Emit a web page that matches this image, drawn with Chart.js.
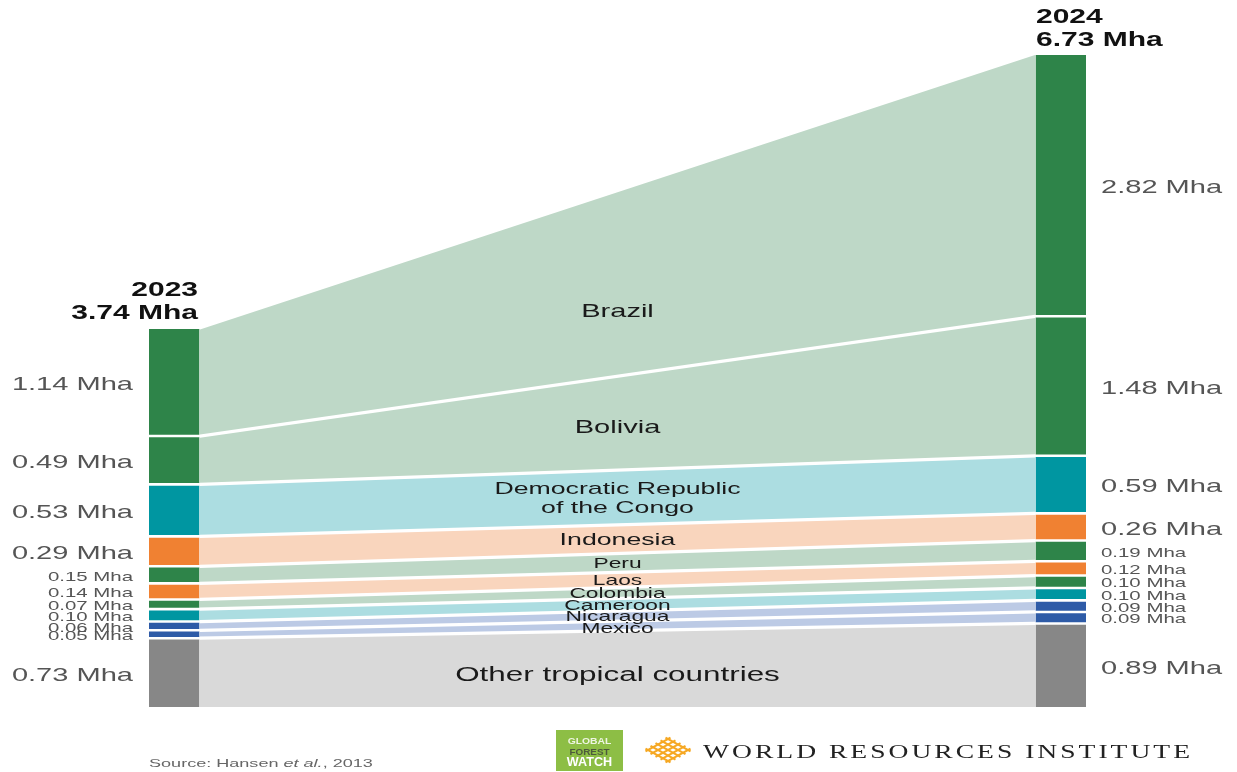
<!DOCTYPE html>
<html>
<head>
<meta charset="utf-8">
<title>Tropical primary forest loss from fires</title>
<script src="https://cdn.jsdelivr.net/npm/chart.js@4/dist/chart.umd.min.js"></script>
<style>
	html, body { margin: 0; padding: 0; background: #fff; }
	#quadro { position: relative; width: 1237px; height: 772px; }
</style>
</head>
<body>
<div id="quadro"><canvas id="graficoPerda"></canvas></div>
<script>
// dados
var anos = ['2023', '2024'];
var totais = [3.74, 6.73];
var paises = ['Brazil', 'Bolivia', 'Democratic Republic\nof the Congo', 'Indonesia', 'Peru', 'Laos',
	'Colombia', 'Cameroon', 'Nicaragua', 'Mexico', 'Other tropical countries'];
var perda2023 = [1.14, 0.49, 0.53, 0.29, 0.15, 0.14, 0.07, 0.10, 0.06, 0.05, 0.73];
var perda2024 = [2.82, 1.48, 0.59, 0.26, 0.19, 0.12, 0.10, 0.10, 0.09, 0.09, 0.89];

// estilos
var VERDE = '#2e8449', VERDE_CLARO = '#bed8c7';
var AZUL = '#0096a1', AZUL_CLARO = '#acdde1';
var LARANJA = '#f08132', LARANJA_CLARO = '#f9d5bd';
var ANIL = '#2e5ba7', ANIL_CLARO = '#bccae5';
var CINZA = '#878787', CINZA_CLARO = '#d9d9d9';
var corBarra = [VERDE, VERDE, AZUL, LARANJA, VERDE, LARANJA, VERDE, AZUL, ANIL, ANIL, CINZA];
var corFluxo = [VERDE_CLARO, VERDE_CLARO, AZUL_CLARO, LARANJA_CLARO, VERDE_CLARO, LARANJA_CLARO,
	VERDE_CLARO, AZUL_CLARO, ANIL_CLARO, ANIL_CLARO, CINZA_CLARO];
var tamanhoNome = [18.5, 18.5, 17, 17, 14.5, 14.5, 14.5, 14.5, 14.5, 14.5, 20];
var ajusteNome = [27, 3, 0, 0, 0, 0, 0, 0, 0, 2, 4];

var FONTE = '"Liberation Sans", Arial, sans-serif';
var ESTICAR = 1.57;
var VAO = 0.035;            // espaco branco entre segmentos (Mha)
var LARGURA_BARRA = 50;     // unidades do eixo x = pixels da area
var X_BARRA_23 = 25, X_BARRA_24 = 912, X_MAX = 937;

var Perda = Perda || {};

Perda.Pilha = (function() {
	// empilha de baixo (ultimo pais) para cima (primeiro)
	function empilhar(valores) {
		var faixas = [];
		var base = 0;
		for (var i = valores.length - 1; i >= 0; i--) {
			faixas[i] = [base, base + valores[i]];
			base += valores[i] + VAO;
		}
		return faixas;
	}
	return { empilhar: empilhar };
}());

Perda.Grafico = (function() {

	function Grafico() {
		this.ctx = document.getElementById('graficoPerda').getContext('2d');
		this.faixas23 = Perda.Pilha.empilhar(perda2023);
		this.faixas24 = Perda.Pilha.empilhar(perda2024);
	}

	Grafico.prototype.iniciar = function() {
		var f23 = this.faixas23, f24 = this.faixas24;
		var datasets = [];
		var xIni = LARGURA_BARRA + 1, xFim = X_MAX - LARGURA_BARRA - 1;

		paises.forEach(function(p, i) {
			datasets.push({
				type: 'line',
				label: p + ' topo',
				data: [{ x: xIni, y: f23[i][1] }, { x: xFim, y: f24[i][1] }],
				fill: '+1',
				backgroundColor: corFluxo[i],
				borderWidth: 0,
				pointRadius: 0,
				tension: 0
			});
			datasets.push({
				type: 'line',
				label: p + ' base',
				data: [{ x: xIni, y: f23[i][0] }, { x: xFim, y: f24[i][0] }],
				fill: false,
				borderWidth: 0,
				pointRadius: 0,
				tension: 0
			});
		});

		paises.forEach(function(p, i) {
			datasets.push({
				type: 'bar',
				label: p,
				data: [{ x: X_BARRA_23, y: f23[i] }, { x: X_BARRA_24, y: f24[i] }],
				backgroundColor: corBarra[i],
				barThickness: LARGURA_BARRA,
				grouped: false
			});
		});

		var topo = Math.max(f23[0][1], f24[0][1]);

		new Chart(this.ctx, {
			type: 'bar',
			data: { datasets: datasets },
			options: {
				responsive: true,
				maintainAspectRatio: false,
				animation: false,
				layout: { padding: { left: 149, right: 151, top: 55, bottom: 65 } },
				scales: {
					x: { type: 'linear', min: 0, max: X_MAX, offset: false, display: false },
					y: { type: 'linear', min: 0, max: topo, display: false }
				},
				plugins: {
					legend: { display: false },
					tooltip: { enabled: false },
					filler: { propagate: false }
				}
			},
			plugins: [rotulos(f23, f24)]
		});
	};

	// texto centrado pela altura das maiusculas
	function escrever(ctx, txt, x, y, tam, estilo, cor, alinhar, esticar, familia) {
		ctx.save();
		ctx.font = estilo + tam + 'px ' + (familia || FONTE);
		ctx.fillStyle = cor;
		ctx.textAlign = alinhar;
		ctx.textBaseline = 'alphabetic';
		ctx.translate(x, y + tam * 0.36);
		ctx.scale(esticar || ESTICAR, 1);
		ctx.fillText(txt, 0, 0);
		ctx.restore();
	}

	function fmt(v) {
		return v.toFixed(2) + ' Mha';
	}

	function rotulos(f23, f24) {
		return {
			id: 'rotulos',
			afterDraw: function(chart) {
				var ctx = chart.ctx;
				var sx = chart.scales.x, sy = chart.scales.y;
				var esq = sx.getPixelForValue(0), dir = sx.getPixelForValue(X_MAX);
				var meio = (sx.getPixelForValue(LARGURA_BARRA) + sx.getPixelForValue(X_MAX - LARGURA_BARRA)) / 2;

				paises.forEach(function(p, i) {
					var c23 = (sy.getPixelForValue(f23[i][0]) + sy.getPixelForValue(f23[i][1])) / 2;
					var c24 = (sy.getPixelForValue(f24[i][0]) + sy.getPixelForValue(f24[i][1])) / 2;
					var t23 = perda2023[i] < 0.2 ? 13 : 18.5;
					var t24 = perda2024[i] < 0.2 ? 13 : 18.5;
					escrever(ctx, fmt(perda2023[i]), esq - 16, c23 + 1, t23, '', '#555', 'right');
					escrever(ctx, fmt(perda2024[i]), dir + 15, c24 + 1, t24, '', '#555', 'left');

					var linhas = p.split('\n');
					var cy = (c23 + c24) / 2 + ajusteNome[i];
					var alt = tamanhoNome[i] * 1.15;
					linhas.forEach(function(l, k) {
						var y = cy + (k - (linhas.length - 1) / 2) * alt;
						escrever(ctx, l, meio, y, tamanhoNome[i], '', '#1a1a1a', 'center');
					});
				});

				// cabecalhos
				var topo23 = sy.getPixelForValue(f23[0][1]);
				var topo24 = sy.getPixelForValue(f24[0][1]);
				var dirBarra23 = sx.getPixelForValue(LARGURA_BARRA) - 1;
				var esqBarra24 = sx.getPixelForValue(X_MAX - LARGURA_BARRA);
				escrever(ctx, anos[0], dirBarra23, topo23 - 41, 20, 'bold ', '#111', 'right', 1.5);
				escrever(ctx, fmt(totais[0]), dirBarra23, topo23 - 18, 20, 'bold ', '#111', 'right', 1.5);
				escrever(ctx, anos[1], esqBarra24, topo24 - 39, 20, 'bold ', '#111', 'left', 1.5);
				escrever(ctx, fmt(totais[1]), esqBarra24, topo24 - 16.5, 20, 'bold ', '#111', 'left', 1.5);

				rodape(ctx, esq);
			}
		};
	}

	function rodape(ctx, x0) {
		var partes = [['Source: Hansen ', ''], ['et al.', 'italic '], [', 2013', '']];
		var x = x0;
		partes.forEach(function(pt) {
			escrever(ctx, pt[0], x, 763, 11.5, pt[1], '#666', 'left');
			ctx.save();
			ctx.font = pt[1] + '11.5px ' + FONTE;
			x += ctx.measureText(pt[0]).width * ESTICAR;
			ctx.restore();
		});

		// Global Forest Watch
		ctx.save();
		ctx.fillStyle = '#8dbe45';
		ctx.fillRect(556, 730, 67, 41);
		ctx.restore();
		escrever(ctx, 'GLOBAL', 589.5, 741, 9, 'bold ', '#eef5e2', 'center', 1.15);
		escrever(ctx, 'FOREST', 589.5, 751.5, 9, 'bold ', '#4d5a3c', 'center', 1.1);
		escrever(ctx, 'WATCH', 589.5, 762, 12, 'bold ', '#ffffff', 'center', 1.05);

		// World Resources Institute
		ctx.save();
		ctx.strokeStyle = '#f6a823';
		ctx.lineWidth = 2.2;
		var cx = 668, cy = 750, d = 5;
		for (var a = -2; a <= 2; a++) {
			ctx.beginPath();
			ctx.moveTo(cx + (a - 2.5) * d, cy - (a + 2.5) * d * 0.55);
			ctx.lineTo(cx + (a + 2.5) * d, cy - (a - 2.5) * d * 0.55);
			ctx.stroke();
			ctx.beginPath();
			ctx.moveTo(cx + (a - 2.5) * d, cy + (a + 2.5) * d * 0.55);
			ctx.lineTo(cx + (a + 2.5) * d, cy + (a - 2.5) * d * 0.55);
			ctx.stroke();
		}
		ctx.restore();

		var wri = 'WORLD RESOURCES INSTITUTE';
		var esc = 1.45;
		ctx.save();
		ctx.font = '19px "Liberation Serif", "DejaVu Serif", serif';
		var w = ctx.measureText(wri).width;
		ctx.letterSpacing = Math.max(0, (487 / esc - w) / (wri.length - 1)) + 'px';
		ctx.fillStyle = '#222';
		ctx.textBaseline = 'alphabetic';
		ctx.translate(703, 752 + 19 * 0.33);
		ctx.scale(esc, 1);
		ctx.fillText(wri, 0, 0);
		ctx.restore();
	}

	return Grafico;

}());

window.addEventListener('load', function() {
	var grafico = new Perda.Grafico();
	grafico.iniciar();
});
</script>
</body>
</html>
